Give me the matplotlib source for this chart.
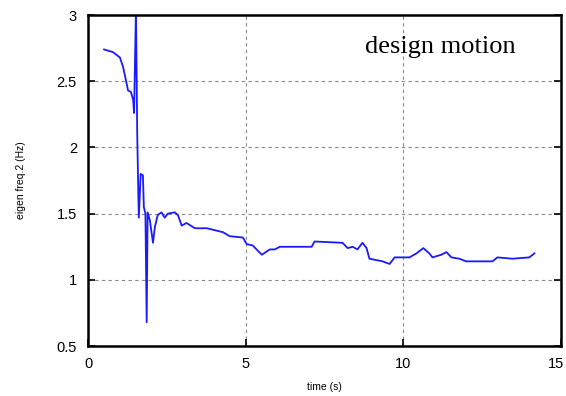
import matplotlib
matplotlib.use("Agg")
import matplotlib.pyplot as plt
from matplotlib.transforms import ScaledTranslation

# identified second eigenfrequency over time
time_s = [0.51, 0.79, 1.01, 1.11, 1.20, 1.27, 1.36, 1.43, 1.46, 1.52, 1.56, 1.61,
          1.67, 1.74, 1.77, 1.82, 1.86, 1.89, 1.96, 2.06, 2.12, 2.21, 2.33, 2.43,
          2.53, 2.75, 2.85, 2.97, 3.12, 3.39, 3.77, 4.28, 4.49, 4.91, 5.03, 5.22,
          5.51, 5.76, 5.92, 6.08, 6.60, 7.09, 7.18, 8.07, 8.23, 8.39, 8.54, 8.70,
          8.83, 8.92, 9.34, 9.56, 9.72, 10.19, 10.41, 10.63, 10.82, 10.92, 11.20,
          11.36, 11.52, 11.77, 11.99, 12.41, 12.82, 12.98, 13.45, 13.99, 14.15]
freq_hz = [2.74, 2.72, 2.68, 2.61, 2.51, 2.43, 2.42, 2.36, 2.26, 3.05, 2.10, 1.47,
           1.80, 1.79, 1.55, 1.50, 0.68, 1.51, 1.45, 1.28, 1.40, 1.49, 1.51, 1.47,
           1.50, 1.51, 1.49, 1.41, 1.43, 1.39, 1.39, 1.36, 1.33, 1.32, 1.27, 1.26,
           1.19, 1.23, 1.23, 1.25, 1.25, 1.25, 1.29, 1.28, 1.24, 1.25, 1.23, 1.28,
           1.24, 1.16, 1.14, 1.12, 1.17, 1.17, 1.20, 1.24, 1.20, 1.17, 1.19,
           1.21, 1.17, 1.16, 1.14, 1.14, 1.14, 1.17, 1.16, 1.17, 1.20]

xticks = [0, 5, 10, 15]
yticks = [0.5, 1, 1.5, 2, 2.5, 3]

fig = plt.figure(figsize=(5.66, 3.96), dpi=100)
ax = fig.add_axes([0.1555, 0.126, 0.836, 0.836])

ax.plot(time_s, freq_hz, color="#1a1aff", lw=1.3)

ax.set_xlim(0, 15)
ax.set_ylim(0.5, 3)
ax.set_xticks(xticks)
ax.set_xticklabels([str(t) for t in xticks])
ax.set_yticks(yticks)
ax.set_yticklabels(["0.5", "1", "1.5", "2", "2.5", "3"])
ax.tick_params(direction="in", length=5, width=1.2, labelsize=10.5, pad=8,
               right=True, top=False)
for lab in ax.get_xticklabels() + ax.get_yticklabels():
    lab.set_fontfamily("Liberation Sans")
# keep the last x label inside the figure
last = ax.get_xticklabels()[-1]
last.set_transform(last.get_transform() + ScaledTranslation(-5 / 100, 0, fig.dpi_scale_trans))

ax.grid(True, color="#888888", linestyle=(0, (3, 3)), linewidth=0.8)
for sp in ax.spines.values():
    sp.set_linewidth(1.8)

ax.set_xlabel("time (s)", fontsize=7.5, family="Liberation Sans", labelpad=8)
ax.set_ylabel("eigen freq.2 (Hz)", fontsize=7.5, family="Liberation Sans", labelpad=22)

ax.text(0.745, 0.903, "design motion", transform=ax.transAxes, fontsize=19,
        family="Liberation Serif", va="center", ha="center")

fig.savefig("out.png", dpi=100)
